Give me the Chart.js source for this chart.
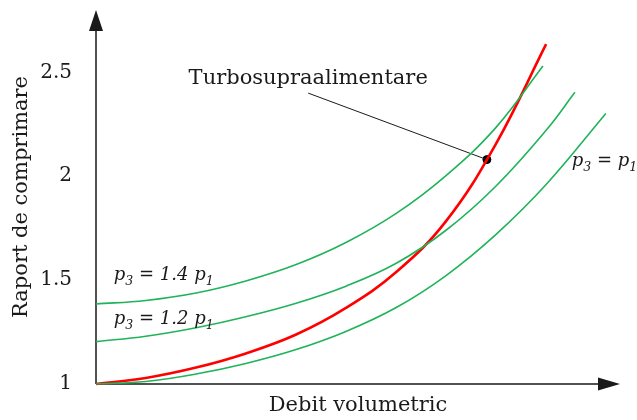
<!DOCTYPE html>
<html>
<head>
<meta charset="utf-8">
<script src="https://cdn.jsdelivr.net/npm/chart.js@4/dist/chart.umd.min.js"></script>
<style>
  html, body { margin: 0; padding: 0; background: #fff; }
</style>
</head>
<body>
<canvas id="chart" width="637" height="420"></canvas>
<script>
// compressor pressure ratio vs volumetric flow
const yTicks = [1, 1.5, 2, 2.5];
const yTickLabels = ['1', '1.5', '2', '2.5'];

// turbocharger operating line
const turboX = [0, 0.95, 1.91, 2.86, 3.82, 4.77, 5.73, 6.68, 7.63, 8.59];
const turboY = [1.000, 1.029, 1.079, 1.147, 1.238, 1.366, 1.539, 1.784, 2.155, 2.636];

// engine lines for p3 = 1.4 p1, 1.2 p1 and p1
const line14X = [0, 0.95, 1.91, 2.86, 3.82, 4.77, 5.73, 6.68, 7.63, 8.53];
const line14Y = [1.385, 1.402, 1.438, 1.496, 1.575, 1.681, 1.821, 2.003, 2.234, 2.530];
const line12X = [0, 0.95, 1.91, 2.86, 3.82, 4.77, 5.73, 6.68, 7.63, 8.59, 9.14];
const line12Y = [1.204, 1.230, 1.271, 1.324, 1.389, 1.471, 1.581, 1.740, 1.952, 2.221, 2.404];
const line10X = [0, 0.95, 1.91, 2.86, 3.82, 4.77, 5.73, 6.68, 7.63, 8.59, 9.73];
const line10Y = [1.000, 1.012, 1.048, 1.099, 1.166, 1.253, 1.368, 1.522, 1.719, 1.960, 2.302];

// marked point and the start of its leader line
const markPoint = [7.46, 2.080];
const leaderStart = [4.05, 2.40];
const markText = 'Turbosupraalimentare';

// curve labels: coefficient text and anchor (left, baseline) in data units
const curveLabels = [
  { coef: '1.4 ', x: 0.34, y: 1.50 },
  { coef: '1.2 ', x: 0.34, y: 1.29 },
  { coef: '', x: 9.08, y: 2.05 }
];

const SERIF = '"DejaVu Serif", "Liberation Serif", serif';
const GREEN = '#1fb35a';
const RED = '#ff0000';
const INK = '#1a1a1a';

function pts(xs, ys) {
  return xs.map(function (x, i) { return { x: x, y: ys[i] }; });
}

function curve(xs, ys, color, width) {
  return {
    data: pts(xs, ys),
    borderColor: color,
    borderWidth: width,
    pointRadius: 0,
    fill: false,
    tension: 0.4,
    clip: false
  };
}

// "p3 = <coef>p1" with subscripts
function drawPLabel(ctx, x, y, coef) {
  const big = 'italic 18px ' + SERIF;
  const small = 'italic 12.5px ' + SERIF;
  let cx = x;
  function put(text, font, dy) {
    ctx.font = font;
    ctx.fillText(text, cx, y + dy);
    cx += ctx.measureText(text).width;
  }
  put('p', big, 0);
  put('3', small, 5);
  put(' = ' + coef, big, 0);
  put('p', big, 0);
  put('1', small, 5);
}

const decorations = {
  id: 'decorations',
  beforeDatasetsDraw(chart) {
    const ctx = chart.ctx;
    const a = chart.chartArea;
    ctx.save();
    ctx.strokeStyle = INK;
    ctx.fillStyle = INK;
    ctx.lineWidth = 1.5;
    // axes with arrow heads
    ctx.beginPath();
    ctx.moveTo(a.left, a.bottom);
    ctx.lineTo(a.left, a.top + 18);
    ctx.moveTo(a.left, a.bottom);
    ctx.lineTo(a.right - 20, a.bottom);
    ctx.stroke();
    ctx.beginPath();
    ctx.moveTo(a.left, a.top);
    ctx.lineTo(a.left - 7, a.top + 21);
    ctx.lineTo(a.left + 7, a.top + 21);
    ctx.closePath();
    ctx.fill();
    ctx.beginPath();
    ctx.moveTo(a.right, a.bottom);
    ctx.lineTo(a.right - 22, a.bottom - 6.5);
    ctx.lineTo(a.right - 22, a.bottom + 6.5);
    ctx.closePath();
    ctx.fill();
    ctx.restore();
  },
  afterDatasetsDraw(chart) {
    const ctx = chart.ctx;
    const xs = chart.scales.x;
    const ys = chart.scales.y;
    ctx.save();
    ctx.fillStyle = INK;
    ctx.textBaseline = 'alphabetic';
    ctx.textAlign = 'center';
    ctx.font = '21px ' + SERIF;
    ctx.fillText(markText, xs.getPixelForValue(leaderStart[0]), ys.getPixelForValue(leaderStart[1]) - 9);
    ctx.textAlign = 'left';
    curveLabels.forEach(function (l) {
      drawPLabel(ctx, xs.getPixelForValue(l.x), ys.getPixelForValue(l.y), l.coef);
    });
    ctx.restore();
  }
};

new Chart(document.getElementById('chart'), {
  type: 'line',
  data: {
    datasets: [
      curve(line14X, line14Y, GREEN, 1.6),
      curve(line12X, line12Y, GREEN, 1.6),
      curve(line10X, line10Y, GREEN, 1.6),
      curve(turboX, turboY, RED, 2.6),
      {
        data: pts([leaderStart[0], markPoint[0]], [leaderStart[1], markPoint[1]]),
        borderColor: INK,
        borderWidth: 1,
        pointRadius: 0,
        clip: false
      },
      {
        type: 'scatter',
        data: pts([markPoint[0]], [markPoint[1]]),
        backgroundColor: '#000',
        borderColor: '#000',
        pointRadius: 4,
        clip: false
      }
    ]
  },
  options: {
    responsive: false,
    animation: false,
    events: [],
    layout: { padding: { left: 0, right: 17, top: 10, bottom: 0 } },
    plugins: { legend: { display: false }, tooltip: { enabled: false } },
    scales: {
      x: {
        type: 'linear',
        min: 0,
        max: 10,
        grid: { display: false, drawTicks: false },
        border: { display: false },
        ticks: { display: false },
        title: {
          display: true,
          text: 'Debit volumetric',
          color: INK,
          font: { family: SERIF, size: 21 },
          padding: { top: 0, bottom: 2 }
        },
        afterFit: function (s) { s.height = 36; }
      },
      y: {
        type: 'linear',
        min: 1,
        max: 2.8,
        grid: { display: false, drawTicks: false },
        border: { display: false },
        afterBuildTicks: function (s) {
          s.ticks = yTicks.map(function (v) { return { value: v }; });
        },
        ticks: {
          padding: 24,
          color: INK,
          font: { family: SERIF, size: 20 },
          callback: function (v, i) { return yTickLabels[i]; }
        },
        title: {
          display: true,
          text: 'Raport de comprimare',
          color: INK,
          font: { family: SERIF, size: 21 },
          padding: { top: 9, bottom: 0 }
        },
        afterFit: function (s) {
          s.width = 96;
          s.paddingTop = 0;
          s.paddingBottom = 0;
        }
      }
    }
  },
  plugins: [decorations]
});
</script>
</body>
</html>
